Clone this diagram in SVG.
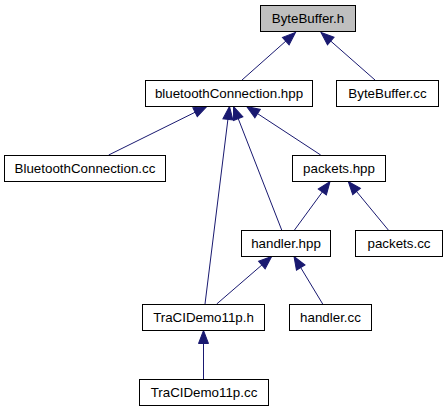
<svg xmlns="http://www.w3.org/2000/svg" width="447" height="411" viewBox="0 0 447 411">
<style>
.node rect{fill:#ffffff;stroke:#000000;stroke-width:1}
.node.root rect{fill:#bfbfbf}
.node text{font-family:"Liberation Sans",Arial,Helvetica,sans-serif;font-size:13.33px;fill:#000000;text-anchor:middle}
.edges line{stroke:#191970;stroke-width:1;fill:none;marker-end:url(#arrow)}
</style>
<defs>
<marker id="arrow" markerUnits="userSpaceOnUse" markerWidth="16" markerHeight="14" viewBox="-1 -7 15 14" refX="13" refY="0" orient="auto">
<path d="M0,-5 L13,0 L0,5 Z" fill="#191970" stroke="#191970" stroke-width="1"/>
</marker>
</defs>
<rect width="447" height="411" fill="#ffffff"/>
<g class="edges" id="edges">
<line x1="242" y1="80" x2="295.5" y2="32.5"/>
<line x1="375" y1="80" x2="321" y2="32.5"/>
<line x1="108.7" y1="155" x2="206.7" y2="106.5"/>
<line x1="205" y1="304" x2="229.5" y2="106.5"/>
<line x1="281.7" y1="230" x2="233.5" y2="106.5"/>
<line x1="320.7" y1="155" x2="246.7" y2="106.5"/>
<line x1="294.5" y1="230" x2="330" y2="181.5"/>
<line x1="388.3" y1="230" x2="348.3" y2="181.5"/>
<line x1="216.7" y1="304" x2="271.7" y2="256.5"/>
<line x1="322.7" y1="304" x2="294" y2="256.5"/>
<line x1="203.5" y1="379" x2="203.5" y2="330.5"/>
</g>
<g class="node root" id="node-ByteBuffer_h"><rect x="260.5" y="5.5" width="95" height="26"/><text x="308" y="23">ByteBuffer.h</text></g>
<g class="node" id="node-bluetoothConnection_hpp"><rect x="145.5" y="80.5" width="167" height="26"/><text x="229" y="98">bluetoothConnection.hpp</text></g>
<g class="node" id="node-ByteBuffer_cc"><rect x="336.5" y="80.5" width="102" height="26"/><text x="387.5" y="98">ByteBuffer.cc</text></g>
<g class="node" id="node-BluetoothConnection_cc"><rect x="4.5" y="155.5" width="161" height="26"/><text x="85" y="173">BluetoothConnection.cc</text></g>
<g class="node" id="node-packets_hpp"><rect x="292.5" y="155.5" width="93" height="26"/><text x="339" y="173">packets.hpp</text></g>
<g class="node" id="node-handler_hpp"><rect x="241.5" y="230.5" width="89" height="26"/><text x="286" y="248">handler.hpp</text></g>
<g class="node" id="node-packets_cc"><rect x="355.5" y="230.5" width="87" height="26"/><text x="399" y="248">packets.cc</text></g>
<g class="node" id="node-TraCIDemo11p_h"><rect x="142.5" y="304.5" width="122" height="26"/><text x="203.5" y="322">TraCIDemo11p.h</text></g>
<g class="node" id="node-handler_cc"><rect x="289.5" y="304.5" width="82" height="26"/><text x="330.5" y="322">handler.cc</text></g>
<g class="node" id="node-TraCIDemo11p_cc"><rect x="139.5" y="379.5" width="129" height="26"/><text x="204" y="397">TraCIDemo11p.cc</text></g>
</svg>
